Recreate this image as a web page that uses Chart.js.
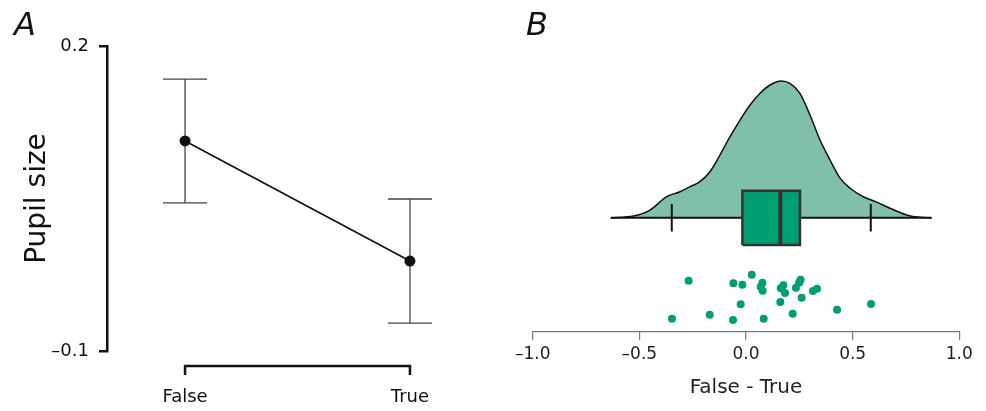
<!DOCTYPE html>
<html>
<head>
<meta charset="utf-8">
<script src="https://cdn.jsdelivr.net/npm/chart.js@4.4.1/dist/chart.umd.min.js"></script>
<style>
  body { margin: 0; background: #fff; width: 986px; height: 411px; overflow: hidden; position: relative; font-family: "DejaVu Sans", sans-serif; }
  .panel { position: absolute; top: 0; height: 411px; }
  #panelA { left: 0; width: 480px; }
  #panelB { left: 480px; width: 506px; }
  .tag { position: absolute; font-style: italic; font-size: 32px; color: #111; line-height: 1; }
</style>
</head>
<body>
<div class="panel" id="panelA"><canvas id="chartA"></canvas></div>
<div class="panel" id="panelB"><canvas id="chartB"></canvas></div>
<div class="tag" style="left:14px; top:8px">A</div>
<div class="tag" style="left:526px; top:8px">B</div>
<script>
// panel A: mean pupil size with error bars
const conditions = ['False', 'True'];
const pupilMean = [0.1066, -0.0115];
const pupilUpper = [0.1675, 0.0495];
const pupilLower = [0.0456, -0.0725];
const pupilTicks = [-0.1, 0.2];

// panel B: distribution of False - True differences
const diffTicks = [-1.0, -0.5, 0.0, 0.5, 1.0];
const densityX = [-0.634, -0.528, -0.45, -0.372, -0.309, -0.2625, -0.216, -0.169, -0.122, -0.075,
  -0.028, 0.019, 0.066, 0.1125, 0.165, 0.206, 0.253, 0.3, 0.347, 0.394,
  0.441, 0.488, 0.55, 0.613, 0.675, 0.753, 0.816, 0.87];
const densityY = [0, 0.022, 0.101, 0.276, 0.342, 0.408, 0.474, 0.605, 0.825, 1.066,
  1.285, 1.483, 1.637, 1.746, 1.80, 1.768, 1.637, 1.351, 1.022, 0.759,
  0.52, 0.387, 0.276, 0.205, 0.124, 0.036, 0.005, 0];
// whisker low, q1, median, q3, whisker high
const boxStats = [-0.348, -0.017, 0.161, 0.253, 0.585];
const diffValues = [-0.269, -0.347, -0.170, -0.059, -0.017, -0.061, -0.025, 0.027, 0.077, 0.069,
  0.078, 0.083, 0.175, 0.163, 0.183, 0.161, 0.219, 0.234, 0.256, 0.249,
  0.261, 0.314, 0.333, 0.427, 0.586];
const diffJitter = [-0.829, -1.329, -1.276, -0.863, -0.882, -1.346, -1.139, -0.75, -0.855, -0.908,
  -0.96, -1.329, -0.889, -0.929, -0.991, -1.109, -1.263, -0.921, -0.816, -0.855,
  -1.053, -0.964, -0.934, -1.21, -1.136];

Chart.defaults.font.family = '"DejaVu Sans", sans-serif';
const ink = '#111';
const green = '#009e73';
const fmt = v => (v < 0 ? '\u2013' : '') + Math.abs(v).toFixed(1);

// ---------- panel A ----------
const capHalf = 0.098;
const errData = [];
pupilMean.forEach((m, i) => {
  errData.push({x: i - capHalf, y: pupilUpper[i]}, {x: i + capHalf, y: pupilUpper[i]}, {x: i, y: null});
  errData.push({x: i, y: pupilUpper[i]}, {x: i, y: pupilLower[i]}, {x: i, y: null});
  errData.push({x: i - capHalf, y: pupilLower[i]}, {x: i + capHalf, y: pupilLower[i]}, {x: i, y: null});
});

const bracket = {
  id: 'bracket',
  afterDraw(chart) {
    const xs = chart.scales.x;
    const ctx = chart.ctx;
    const y0 = chart.chartArea.bottom + 15;
    const x0 = xs.getPixelForValue(0);
    const x1 = xs.getPixelForValue(conditions.length - 1);
    ctx.save();
    ctx.strokeStyle = ink;
    ctx.lineWidth = 2.5;
    ctx.beginPath();
    ctx.moveTo(x0, y0 + 9);
    ctx.lineTo(x0, y0);
    ctx.lineTo(x1, y0);
    ctx.lineTo(x1, y0 + 9);
    ctx.stroke();
    ctx.restore();
  }
};

new Chart(document.getElementById('chartA'), {
  type: 'scatter',
  data: {
    datasets: [{
      data: pupilMean.map((m, i) => ({x: i, y: m})),
      showLine: true,
      borderColor: ink,
      borderWidth: 1.6,
      pointRadius: 5.5,
      pointBackgroundColor: ink,
      pointBorderWidth: 0,
      clip: false,
      order: 1
    }, {
      data: errData,
      showLine: true,
      spanGaps: false,
      borderColor: '#444',
      borderWidth: 1.3,
      pointRadius: 0,
      clip: false,
      order: 2
    }]
  },
  options: {
    responsive: true,
    maintainAspectRatio: false,
    animation: false,
    layout: {padding: {left: 0, top: 46, right: 10, bottom: 0}},
    plugins: {legend: {display: false}, tooltip: {enabled: false}},
    scales: {
      x: {
        type: 'linear',
        min: -0.347,
        max: 1.267,
        afterBuildTicks: s => { s.ticks = conditions.map((c, i) => ({value: i})); },
        afterFit: s => { s.height = 60; },
        border: {display: false},
        grid: {display: false, drawTicks: false},
        ticks: {callback: v => conditions[v], color: ink, font: {size: 18}, padding: 36, maxRotation: 0}
      },
      y: {
        min: -0.1,
        max: 0.2,
        afterBuildTicks: s => { s.ticks = pupilTicks.map(v => ({value: v})); },
        afterFit: s => { s.width = 107; },
        border: {display: true, color: ink, width: 2.5},
        grid: {display: true, drawOnChartArea: false, tickLength: 8, color: ink, lineWidth: 2.5},
        ticks: {callback: fmt, color: ink, font: {size: 18}, padding: 10},
        title: {display: true, text: 'Pupil size', color: ink, font: {size: 28}, padding: {top: 21, bottom: 0}}
      }
    }
  },
  plugins: [bracket]
});

// ---------- panel B ----------
const boxTop = 0.355, boxBottom = -0.36, whiskerTick = 0.18;
const [wLo, q1, med, q3, wHi] = boxStats;

new Chart(document.getElementById('chartB'), {
  type: 'scatter',
  data: {
    datasets: [{
      // density
      data: densityX.map((x, i) => ({x, y: densityY[i]})),
      showLine: true,
      fill: 'origin',
      backgroundColor: '#80bfa8',
      borderColor: ink,
      borderWidth: 1.5,
      cubicInterpolationMode: 'monotone',
      pointRadius: 0,
      clip: false,
      order: 7
    }, {
      // baseline + whisker ends
      data: [{x: densityX[0], y: 0}, {x: densityX[densityX.length - 1], y: 0}, {x: 0, y: null},
        {x: wLo, y: -whiskerTick}, {x: wLo, y: whiskerTick}, {x: 0, y: null},
        {x: wHi, y: -whiskerTick}, {x: wHi, y: whiskerTick}],
      showLine: true,
      spanGaps: false,
      borderColor: ink,
      borderWidth: 2,
      pointRadius: 0,
      clip: false,
      order: 6
    }, {
      // box fill
      data: [{x: q1, y: boxTop}, {x: q3, y: boxTop}],
      showLine: true,
      fill: {value: boxBottom},
      backgroundColor: green,
      borderWidth: 0,
      pointRadius: 0,
      clip: false,
      order: 5
    }, {
      // box outline
      data: [{x: q1, y: boxBottom}, {x: q1, y: boxTop}, {x: q3, y: boxTop}, {x: q3, y: boxBottom}, {x: q1, y: boxBottom}],
      showLine: true,
      borderColor: '#333',
      borderWidth: 2.5,
      borderJoinStyle: 'miter',
      pointRadius: 0,
      clip: false,
      order: 4
    }, {
      // median
      data: [{x: med, y: boxBottom}, {x: med, y: boxTop}],
      showLine: true,
      borderColor: '#333',
      borderWidth: 4,
      pointRadius: 0,
      clip: false,
      order: 3
    }, {
      // individual differences
      data: diffValues.map((v, i) => ({x: v, y: diffJitter[i]})),
      pointRadius: 4,
      pointBackgroundColor: green,
      pointBorderWidth: 0,
      clip: false,
      order: 1
    }]
  },
  options: {
    responsive: true,
    maintainAspectRatio: false,
    animation: false,
    layout: {padding: {left: 52.7, right: 26.7, top: 65.7, bottom: 0}},
    plugins: {legend: {display: false}, tooltip: {enabled: false}},
    scales: {
      x: {
        type: 'linear',
        min: -1,
        max: 1,
        afterBuildTicks: s => { s.ticks = diffTicks.map(v => ({value: v})); },
        afterFit: s => { s.height = 79.3; },
        border: {display: true, color: '#777', width: 1.2},
        grid: {display: true, drawOnChartArea: false, tickLength: 8, color: '#777', lineWidth: 1.2},
        ticks: {callback: fmt, color: '#222', font: {size: 17}, padding: 5, maxRotation: 0},
        title: {display: true, text: 'False - True', color: '#222', font: {size: 20}, padding: {top: 6, bottom: 11}}
      },
      y: {min: -1.5, max: 2.0, display: false}
    }
  }
});
</script>
</body>
</html>
